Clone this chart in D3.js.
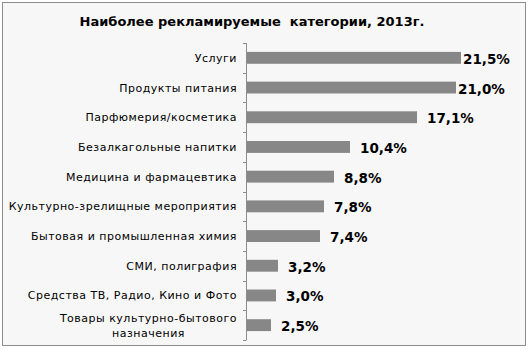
<!DOCTYPE html>
<html><head><meta charset="utf-8">
<script src="https://cdn.jsdelivr.net/npm/d3@7"></script>
<style>body{margin:0;background:#fff}svg{display:block}</style>
</head><body>
<script>
const categories = ["Услуги","Продукты питания","Парфюмерия/косметика","Безалкагольные напитки","Медицина и фармацевтика","Культурно-зрелищные мероприятия","Бытовая и промышленная химия","СМИ, полиграфия","Средства ТВ, Радио, Кино и Фото","Товары культурно-бытового назначения"];
const values = [21.5,21.0,17.1,10.4,8.8,7.8,7.4,3.2,3.0,2.5];
const valueLabels = ["21,5%","21,0%","17,1%","10,4%","8,8%","7,8%","7,4%","3,2%","3,0%","2,5%"];
const title = "Наиболее рекламируемые  категории, 2013г.";

const W = 529, H = 351;
const svg = d3.select("body").append("svg").attr("width", W).attr("height", H);
svg.append("rect").attr("x",2.5).attr("y",2.5).attr("width",523).attr("height",343)
  .attr("fill","#f7f7f7").attr("stroke","#8c8c8c").attr("stroke-width",1);

svg.append("text").attr("x",252).attr("y",26).attr("text-anchor","middle")
  .attr("font-family","DejaVu Sans, Verdana, sans-serif").attr("font-weight","bold")
  .attr("font-size","13px").attr("fill","#000").style("white-space","pre").text(title);

const x = d3.scaleLinear().domain([0,25]).range([246,496]);
const y = d3.scaleBand().domain(categories).range([43,340]).paddingInner(0.6).paddingOuter(0.3);

const g = svg.append("g");
g.selectAll("rect.bar").data(values).join("rect").attr("class","bar")
  .attr("x", x(0)).attr("y", (d,i)=>y(categories[i]))
  .attr("width", d=>x(d)-x(0)).attr("height", y.bandwidth()).attr("fill","#878787");

// axis line and boundary ticks
const boundaries = d3.range(categories.length+1).map(i => 43 + i*y.step());
g.append("line").attr("x1",x(0)+0.5).attr("x2",x(0)+0.5).attr("y1",43).attr("y2",340)
  .attr("stroke","#8c8c8c");
g.selectAll("line.tick").data(boundaries).join("line").attr("class","tick")
  .attr("x1",x(0)-3).attr("x2",x(0)+0.5).attr("y1",d=>Math.round(d)+0.5).attr("y2",d=>Math.round(d)+0.5)
  .attr("stroke","#8c8c8c");

// category labels
const labG = g.append("g").attr("font-family","DejaVu Sans, Verdana, sans-serif").attr("font-size","11px")
  .attr("letter-spacing","0.5px").attr("fill","#000");
categories.forEach((c,i)=>{
  const cy = y(c)+y.bandwidth()/2;
  if (c.length > 32) {
    const lines = ["Товары культурно-бытового","назначения"];
    const t = labG.append("text").attr("text-anchor","middle");
    const tmp = labG.append("text").text(lines[0]);
    const w = tmp.node().getComputedTextLength(); tmp.remove();
    const cx = 237 - w/2;
    t.append("tspan").attr("x",cx).attr("y",cy-3.5).text(lines[0]);
    t.append("tspan").attr("x",cx).attr("y",cy+11.5).text(lines[1]);
  } else {
    labG.append("text").attr("x",237).attr("y",cy+4).attr("text-anchor","end").text(c);
  }
});

// value labels
const vG = g.append("g").attr("font-family","DejaVu Sans, Verdana, sans-serif").attr("font-weight","bold").attr("font-size","13.5px").attr("fill","#000");
values.forEach((v,i)=>{
  const end = x(v);
  const gap = end + 10 + 49 > 500 ? 2 : 10;
  vG.append("text").attr("x", end+gap).attr("y", y(categories[i])+y.bandwidth()/2+6).text(valueLabels[i]);
});
</script>
</body></html>
